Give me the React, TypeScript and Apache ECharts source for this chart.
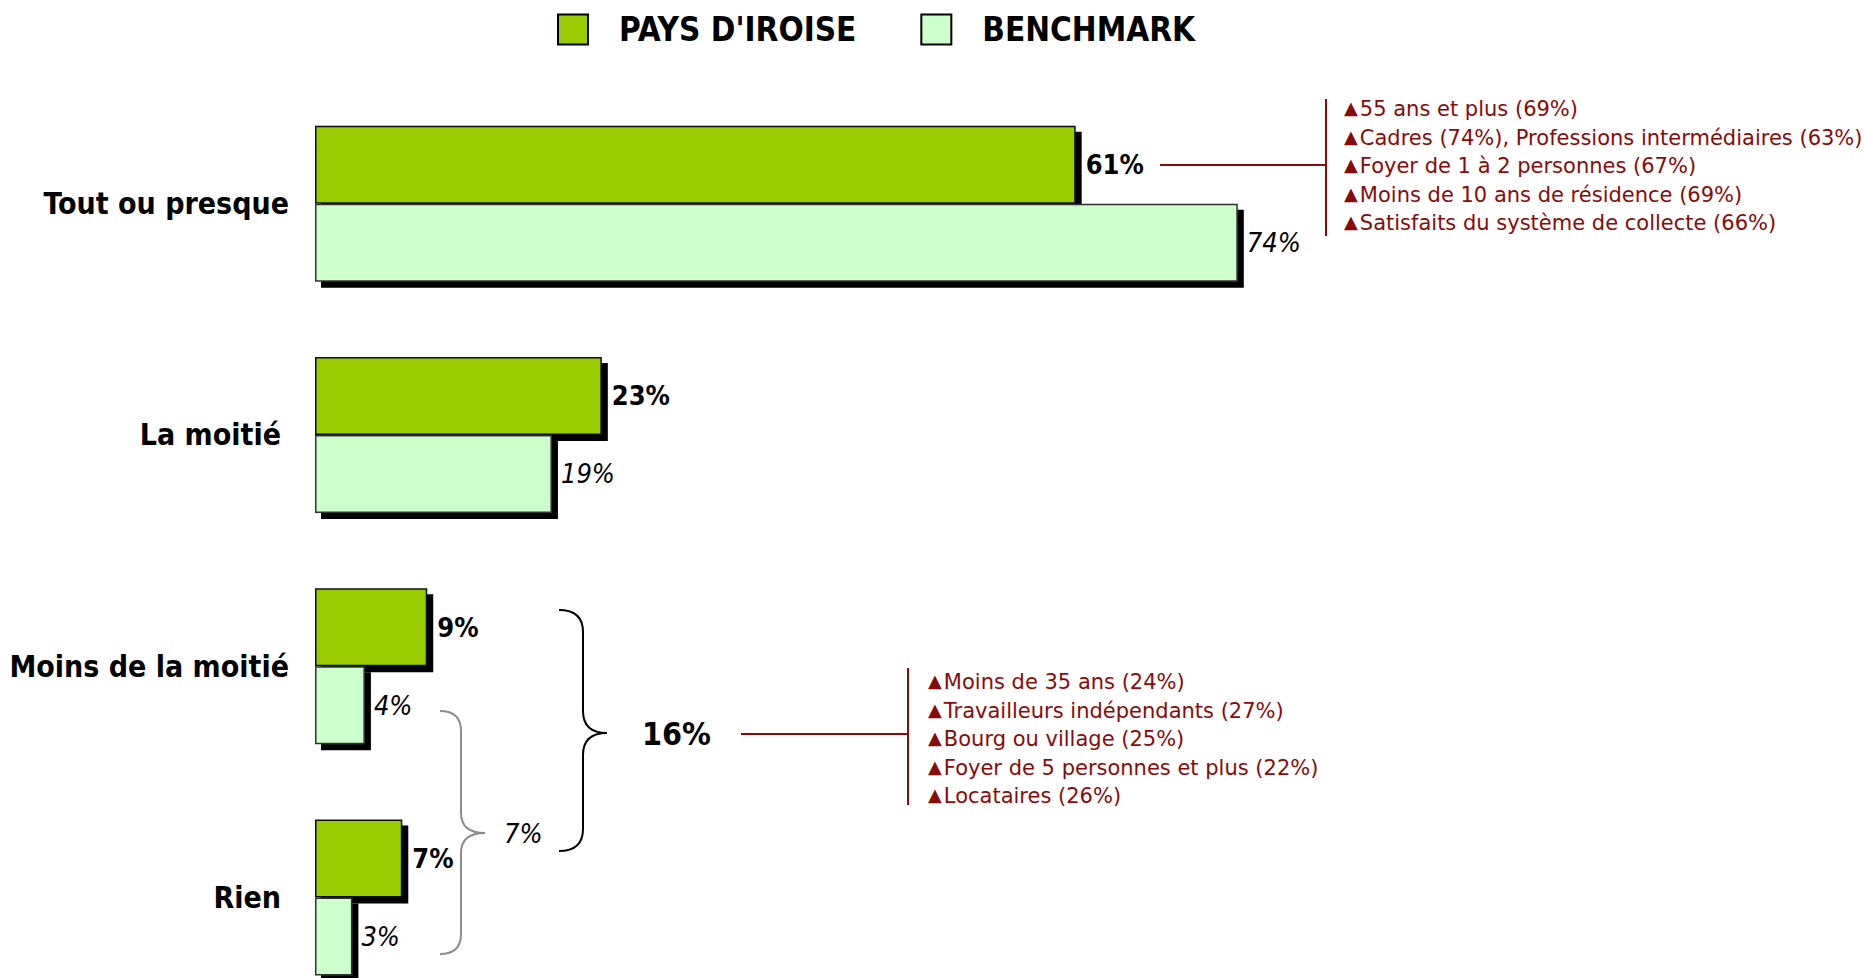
import React, { useEffect, useRef } from 'react';
import * as echarts from 'echarts';

const categories = ['Tout ou presque', 'La moitié', 'Moins de la moitié', 'Rien'];
const paysIroise = [61, 23, 9, 7];
const benchmark = [74, 19, 4, 3];
const seriesNames = ["PAYS D'IROISE", 'BENCHMARK'];
const topNotes = [
  '55 ans et plus (69%)',
  'Cadres (74%), Professions intermédiaires (63%)',
  'Foyer de 1 à 2 personnes (67%)',
  'Moins de 10 ans de résidence (69%)',
  'Satisfaits du système de collecte (66%)',
];
const bottomNotes = [
  'Moins de 35 ans (24%)',
  'Travailleurs indépendants (27%)',
  'Bourg ou village (25%)',
  'Foyer de 5 personnes et plus (22%)',
  'Locataires (26%)',
];
const totalIroiseLabel = '16%';
const totalBenchmarkLabel = '7%';
// extra right padding for some category labels (layout only)
const labelRightPad = [0, 8, 0, 8];

const COND = "'DejaVu Sans Condensed', 'DejaVu Sans', sans-serif";
const SANS = "'DejaVu Sans', sans-serif";
const RED = '#880a0a';
const GREEN = '#99cc00';
const LIGHT = '#ccffcc';

function brace(x0: number, xv: number, xtip: number, yTop: number, yMid: number, yBot: number, r: number, color: string) {
  const st = { stroke: color, lineWidth: 2, fill: 'none' };
  return {
    type: 'group',
    children: [
      { type: 'bezierCurve', shape: { x1: x0, y1: yTop, cpx1: xv, cpy1: yTop, x2: xv, y2: yTop + r }, style: st },
      { type: 'line', shape: { x1: xv, y1: yTop + r, x2: xv, y2: yMid - r }, style: st },
      { type: 'bezierCurve', shape: { x1: xv, y1: yMid - r, cpx1: xv, cpy1: yMid, x2: xtip, y2: yMid }, style: st },
      { type: 'bezierCurve', shape: { x1: xtip, y1: yMid, cpx1: xv, cpy1: yMid, x2: xv, y2: yMid + r }, style: st },
      { type: 'line', shape: { x1: xv, y1: yMid + r, x2: xv, y2: yBot - r }, style: st },
      { type: 'bezierCurve', shape: { x1: xv, y1: yBot - r, cpx1: xv, cpy1: yBot, x2: x0, y2: yBot }, style: st },
    ],
  };
}

function notes(lines: string[], x: number, y0: number, step: number) {
  return lines.map((s, i) => ({
    type: 'text',
    x,
    y: y0 + i * step,
    style: {
      text: '{t|▲}' + s,
      fill: RED,
      fontFamily: SANS,
      fontSize: 21,
      align: 'left',
      verticalAlign: 'middle',
      rich: { t: { fontSize: 18, fill: RED, fontFamily: SANS, padding: [0, 2, 3, 0] } },
    },
  }));
}

export default function App() {
  const ref = useRef<HTMLDivElement>(null);
  useEffect(() => {
    if (!ref.current) return;
    const chart = echarts.init(ref.current, null, { renderer: 'svg' });
    const noShadow = { shadowBlur: 0, shadowOffsetX: 0, shadowOffsetY: 0, shadowColor: 'rgba(0,0,0,0)' };
    chart.setOption({
      animation: false,
      backgroundColor: '#ffffff',
      legend: {
        left: 552,
        top: 8,
        itemWidth: 30,
        itemHeight: 30,
        itemGap: 64,
        icon: 'rect',
        data: seriesNames,
        itemStyle: { borderColor: '#000', borderWidth: 2, ...noShadow },
        textStyle: {
          fontFamily: COND,
          fontWeight: 'bold',
          fontSize: 33,
          color: '#000',
          padding: [0, 0, 0, 26],
        },
      },
      grid: { left: 315, width: 1247, top: 88, height: 925 },
      xAxis: { type: 'value', min: 0, max: 100, show: false },
      yAxis: {
        type: 'category',
        data: categories.map((c, i) => ({ value: c, textStyle: { padding: [0, labelRightPad[i], 0, 0] } })),
        inverse: true,
        axisLine: { show: false },
        axisTick: { show: false },
        axisLabel: {
          margin: 26,
          fontFamily: COND,
          fontWeight: 'bold',
          fontSize: 30,
          color: '#000',
          verticalAlign: 'bottom',
          lineHeight: 7,
        },
      },
      series: [
        {
          name: seriesNames[0],
          type: 'bar',
          data: paysIroise,
          barWidth: 78,
          barGap: '0%',
          itemStyle: {
            color: GREEN,
            borderColor: '#111',
            borderWidth: 1.5,
            shadowColor: '#000',
            shadowBlur: 0,
            shadowOffsetX: 6,
            shadowOffsetY: 6,
          },
          label: {
            show: true,
            position: 'right',
            distance: 10,
            formatter: '{c}%',
            fontFamily: COND,
            fontWeight: 'bold',
            fontSize: 27,
            color: '#000',
          },
        },
        {
          name: seriesNames[1],
          type: 'bar',
          data: benchmark,
          barWidth: 78,
          barGap: '0%',
          itemStyle: {
            color: LIGHT,
            borderColor: '#333',
            borderWidth: 1.5,
            shadowColor: '#000',
            shadowBlur: 0,
            shadowOffsetX: 6,
            shadowOffsetY: 6,
          },
          label: {
            show: true,
            position: 'right',
            distance: 9,
            formatter: '{c}%',
            fontFamily: COND,
            fontStyle: 'italic',
            fontSize: 27,
            color: '#000',
          },
        },
      ],
      graphic: [
        { type: 'line', shape: { x1: 1160, y1: 165, x2: 1326, y2: 165 }, style: { stroke: RED, lineWidth: 2 } },
        { type: 'line', shape: { x1: 1326, y1: 99, x2: 1326, y2: 236 }, style: { stroke: RED, lineWidth: 2 } },
        ...notes(topNotes, 1344, 109, 28.5),
        brace(559, 583, 607, 610, 733, 851, 22, '#000'),
        brace(440, 461, 485, 711, 833, 954, 20, '#8c8c8c'),
        {
          type: 'text', x: 642, y: 734,
          style: { text: totalIroiseLabel, fontFamily: COND, fontWeight: 'bold', fontSize: 32, fill: '#000', align: 'left', verticalAlign: 'middle' },
        },
        {
          type: 'text', x: 504, y: 833,
          style: { text: totalBenchmarkLabel, fontFamily: COND, fontStyle: 'italic', fontSize: 27, fill: '#000', align: 'left', verticalAlign: 'middle' },
        },
        { type: 'line', shape: { x1: 741, y1: 734, x2: 908, y2: 734 }, style: { stroke: RED, lineWidth: 2 } },
        { type: 'line', shape: { x1: 908, y1: 668, x2: 908, y2: 805 }, style: { stroke: RED, lineWidth: 2 } },
        ...notes(bottomNotes, 928, 682, 28.55),
      ],
    });
    return () => chart.dispose();
  }, []);
  return <div ref={ref} style={{ position: 'fixed', left: 0, top: 0, width: 1865, height: 1060 }} />;
}
